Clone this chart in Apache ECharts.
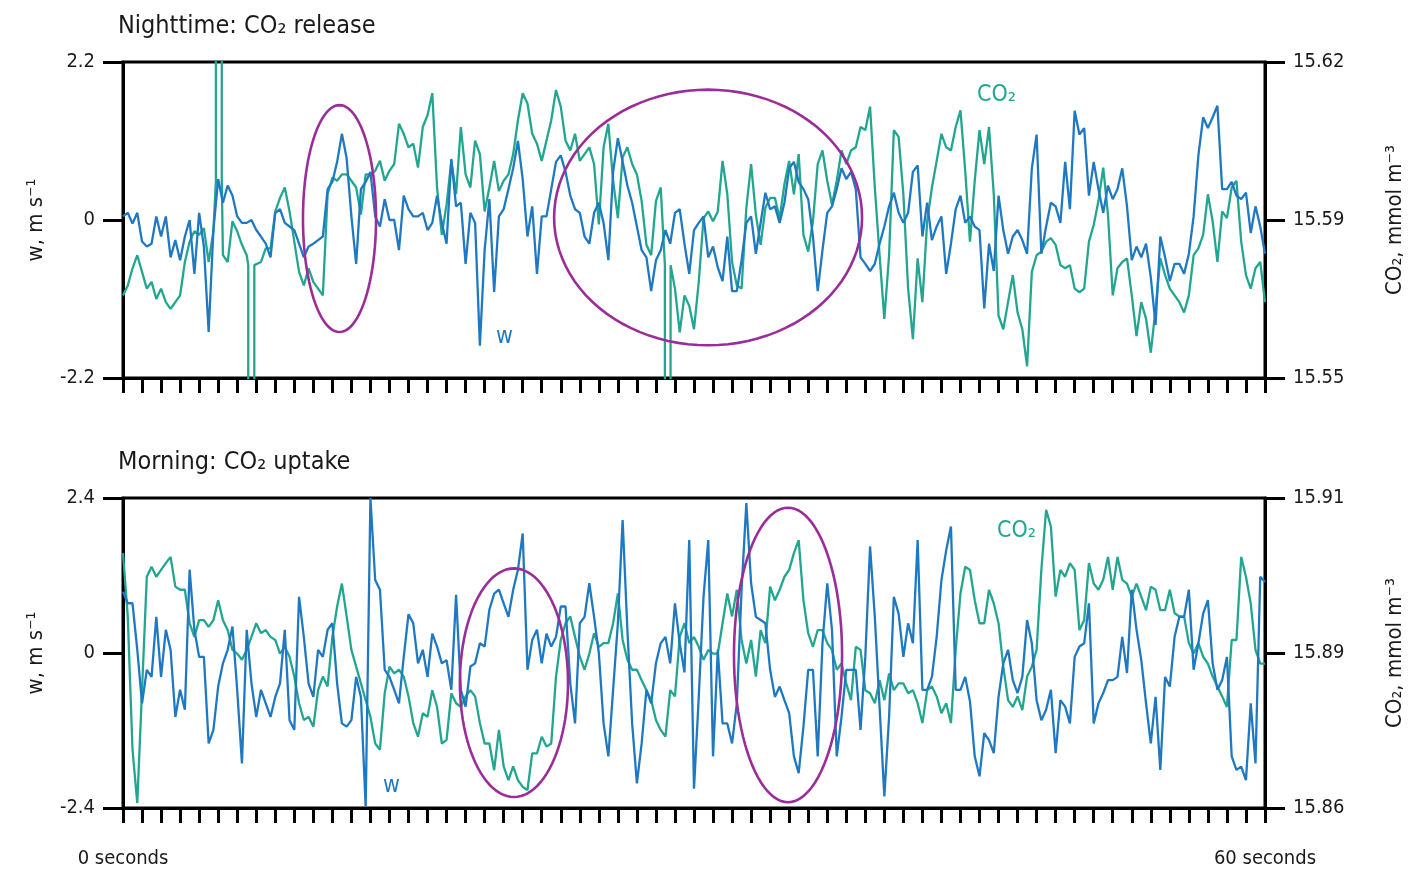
<!DOCTYPE html>
<html><head><meta charset="utf-8">
<script src="https://cdn.jsdelivr.net/npm/echarts@6/dist/echarts.min.js"></script>
<style>html,body{margin:0;padding:0;background:#fff}#c{width:1412px;height:872px}</style>
</head><body><div id="c"></div>
<script>
// sampling step of the traces, seconds
const STEP = 0.25;
const xLabels = {0: '0 seconds', 60: '60 seconds'};
const nightWTicks = [-2.2, 0, 2.2];
const nightCO2Ticks = [15.55, 15.585, 15.62];
const dayWTicks = [-2.4, 0, 2.4];
const dayCO2Ticks = [15.86, 15.885, 15.91];

// Nighttime: vertical wind speed w (m/s)
const nightW = [
0.05,0.1,-0.05,0.1,-0.3,-0.37,-0.33,0.05,-0.23,0.05,
-0.52,-0.28,-0.56,-0.23,0.0,-0.75,0.1,-0.37,-1.56,-0.14,
0.57,0.24,0.48,0.34,0.05,-0.04,-0.04,0.0,-0.14,-0.23,
-0.33,-0.52,0.1,0.15,-0.04,-0.09,-0.14,-0.33,-0.52,-0.37,
-0.33,-0.28,-0.23,0.43,0.53,0.81,1.2,0.86,0.05,-0.61,
0.43,0.53,0.67,0.05,-0.09,0.29,0.0,0.0,-0.42,0.34,
0.15,0.05,0.05,0.1,-0.14,-0.04,0.34,-0.04,-0.33,0.85,
0.19,0.24,-0.61,0.1,-0.04,-1.75,-0.42,0.29,-1.0,0.05,
0.15,0.43,0.72,1.1,0.57,-0.23,0.19,-0.75,0.05,0.05,
0.43,0.81,0.9,0.67,0.34,0.15,0.1,-0.23,-0.33,0.1,
0.24,-0.04,-0.56,0.67,1.14,0.81,0.48,0.24,-0.09,-0.42,
-0.52,-0.99,-0.56,-0.42,-0.14,-0.33,0.1,0.15,-0.33,-0.75,
-0.14,-0.04,0.05,-0.52,-0.37,-0.66,-0.85,-0.23,-0.99,-0.99,
-0.56,-0.04,0.05,-0.47,-0.04,0.38,0.15,0.19,-0.04,0.24,
0.72,0.81,0.53,0.43,0.29,-0.23,-0.99,-0.42,0.1,0.19,
0.43,0.72,0.57,0.67,0.43,-0.52,-0.61,-0.71,-0.61,-0.33,
-0.09,0.19,0.38,0.1,-0.04,0.1,0.67,0.76,-0.23,0.24,
-0.28,-0.09,0.05,-0.75,-0.33,0.15,0.34,-0.04,0.05,-0.09,
-0.14,-1.23,-0.33,-0.71,0.34,-0.14,-0.47,-0.23,-0.14,-0.28,
-0.47,0.72,1.19,-0.47,-0.09,0.24,0.19,-0.04,0.81,0.15,
1.52,1.19,1.28,0.34,0.81,0.43,0.1,0.48,0.29,0.43,
0.72,0.19,-0.56,-0.37,-0.52,-0.33,-0.8,-1.46,-0.23,-0.52,
-0.85,-0.61,-0.61,-0.75,-0.47,0.05,0.9,1.43,1.28,1.43,
1.59,0.43,0.43,0.53,0.34,0.29,0.38,-0.18,0.19,-0.09,-0.47
];
// Nighttime: CO2 concentration (mmol m-3)
const nightCO2 = [
15.5683,15.5705,15.5743,15.5772,15.5735,15.5698,15.5713,15.5675,15.5698,15.5668,
15.5653,15.5668,15.5683,15.5757,15.5802,15.5825,15.5817,15.5832,15.5757,15.5825,
15.5862,15.5772,15.5757,15.5847,15.5825,15.5795,15.5772,15.5698,15.5750,15.5757,
15.5787,15.5787,15.5869,15.5899,15.5922,15.5869,15.5802,15.5735,15.5705,15.5743,
15.5713,15.5698,15.5683,15.5907,15.5944,15.5937,15.5951,15.5951,15.5937,15.5922,
15.5862,15.5951,15.5951,15.5959,15.5981,15.5937,15.5959,15.5974,15.6063,15.6041,
15.6011,15.6019,15.5966,15.6056,15.6082,15.6131,15.5922,15.5817,15.5884,15.5981,
15.5907,15.6056,15.5951,15.5922,15.6026,15.5996,15.5869,15.5922,15.5981,15.5914,
15.5937,15.5951,15.5996,15.6071,15.6131,15.6108,15.6041,15.6019,15.5981,15.6026,
15.6071,15.6138,15.6101,15.6026,15.6004,15.6041,15.5981,15.5996,15.6011,15.5974,
15.5840,15.6011,15.6063,15.5937,15.5854,15.5989,15.6011,15.5974,15.5951,15.5892,
15.5795,15.5772,15.5892,15.5922,15.5772,15.5735,15.5698,15.5601,15.5683,15.5660,
15.5608,15.5713,15.5854,15.5869,15.5847,15.5869,15.5981,15.5907,15.5757,15.5705,
15.5698,15.5877,15.5974,15.5862,15.5795,15.5877,15.5899,15.5899,15.5854,15.5929,
15.5981,15.5907,15.5996,15.5817,15.5780,15.5847,15.5974,15.6004,15.5937,15.5884,
15.5937,15.6004,15.5974,15.6004,15.6011,15.6056,15.6049,15.6101,15.5922,15.5772,
15.5631,15.5772,15.6049,15.6034,15.5907,15.5698,15.5586,15.5765,15.5668,15.5847,
15.5922,15.5981,15.6041,15.6011,15.6004,15.6056,15.6093,15.5959,15.5802,15.5937,
15.6049,15.5974,15.6056,15.5907,15.5638,15.5608,15.5668,15.5728,15.5645,15.5608,
15.5526,15.5735,15.5772,15.5780,15.5802,15.5810,15.5795,15.5750,15.5743,15.5750,
15.5698,15.5690,15.5698,15.5802,15.5839,15.5892,15.5966,15.5862,15.5683,15.5743,
15.5757,15.5765,15.5683,15.5593,15.5668,15.5631,15.5556,15.5653,15.5765,15.5728,
15.5698,15.5683,15.5668,15.5645,15.5683,15.5772,15.5787,15.5817,15.5907,15.5847,
15.5757,15.5869,15.5854,15.5922,15.5937,15.5802,15.5728,15.5698,15.5743,15.5757,15.5668
];
// Nighttime CO2 sensor spikes: [seconds, mmol m-3]
const nightCO2Spikes = [
  [[4.88,15.5937],[4.90,16.5],[5.17,16.5],[5.19,15.5937]],
  [[6.58,15.5750],[6.60,15.2],[6.88,15.2],[6.90,15.5750]],
  [[28.47,15.5750],[28.49,15.2],[28.75,15.2],[28.77,15.5750]]
];
// Morning: vertical wind speed w (m/s)
const dayW = [
0.95,0.77,0.77,0.05,-0.78,-0.26,-0.37,0.56,-0.37,0.36,
0.05,-0.99,-0.57,-0.88,1.29,0.36,-0.06,-0.06,-1.4,-1.19,
-0.52,-0.16,0.05,0.41,-0.57,-1.71,0.36,-0.47,-0.99,-0.57,
-0.78,-0.99,-0.68,-0.47,0.36,-1.04,-1.19,0.87,0.25,-0.47,
-0.68,0.05,-0.06,0.36,0.46,-0.47,-1.09,-1.14,-1.04,-0.37,
-0.68,-2.38,2.4,1.13,0.98,-0.26,-0.37,-0.57,-0.78,-0.06,
0.6,0.46,-0.16,0.05,-0.37,0.3,0.1,-0.16,-0.11,-0.57,
0.9,-0.57,-0.83,-0.21,-0.16,0.15,0.1,0.67,0.92,0.98,
0.77,0.56,0.98,1.29,1.85,-0.26,0.2,0.36,-0.16,0.3,
0.1,0.25,0.72,0.72,-0.47,-1.09,0.46,0.56,1.08,0.56,
0.0,-1.09,-1.6,-0.57,0.46,2.06,0.36,-1.09,-2.02,-1.4,
-0.57,-0.78,-0.16,0.15,0.25,-0.16,0.77,0.15,-0.3,1.75,
-2.1,-0.68,0.87,1.75,-1.6,0.05,-1.09,-1.09,-1.4,-0.78,
0.98,2.32,1.08,0.56,0.51,0.46,-0.26,-0.68,-0.52,-0.73,
-0.93,-1.6,-1.86,-1.14,-0.26,-0.26,-1.6,0.15,1.08,0.36,
-1.6,-0.99,-0.26,-0.26,-0.26,-1.19,-0.06,1.65,0.56,-0.83,
-2.22,-0.99,0.87,0.61,-0.06,0.46,0.15,1.75,-0.57,-0.57,
-0.37,0.25,1.13,1.59,1.96,-0.57,-0.57,-0.37,-0.75,-1.6,
-1.91,-1.24,-1.35,-1.55,-0.68,-0.16,0.05,-0.42,-0.62,-0.37,
0.51,0.15,-0.73,-1.04,-0.88,-0.57,-1.55,-0.73,-0.83,-1.09,
-0.06,0.1,0.15,0.77,-1.09,-0.78,-0.62,-0.42,-0.42,-0.37,
0.25,-0.31,0.98,0.36,-0.11,-0.78,-1.4,-0.68,-1.81,-0.37,
-0.52,0.25,0.56,0.56,0.98,-0.26,0.15,0.61,0.82,-0.16,
-0.57,-0.42,-0.06,-1.6,-1.81,-1.76,-1.97,-0.78,-1.71,1.18,1.1
];
// Morning: CO2 concentration (mmol m-3)
const dayCO2 = [
15.9011,15.8909,15.8694,15.8608,15.8790,15.8973,15.8989,15.8973,15.8984,15.8995,
15.9005,15.8957,15.8952,15.8952,15.8898,15.8876,15.8903,15.8903,15.8892,15.8903,
15.8935,15.8903,15.8887,15.8855,15.8849,15.8839,15.8855,15.8876,15.8898,15.8882,
15.8887,15.8876,15.8871,15.8849,15.8860,15.8844,15.8812,15.8769,15.8742,15.8747,
15.8731,15.8790,15.8812,15.8796,15.8876,15.8925,15.8962,15.8909,15.8855,15.8828,
15.8801,15.8774,15.8747,15.8704,15.8694,15.8785,15.8828,15.8817,15.8823,15.8812,
15.8780,15.8737,15.8715,15.8753,15.8747,15.8790,15.8763,15.8704,15.8710,15.8785,
15.8769,15.8763,15.8780,15.8790,15.8780,15.8737,15.8704,15.8704,15.8661,15.8726,
15.8667,15.8645,15.8667,15.8645,15.8634,15.8629,15.8688,15.8688,15.8715,15.8699,
15.8704,15.8812,15.8871,15.8898,15.8909,15.8876,15.8844,15.8823,15.8849,15.8882,
15.8860,15.8866,15.8866,15.8898,15.8946,15.8871,15.8839,15.8823,15.8823,15.8806,
15.8790,15.8774,15.8742,15.8726,15.8715,15.8790,15.8780,15.8876,15.8898,15.8866,
15.8876,15.8860,15.8839,15.8855,15.8849,15.8849,15.8898,15.8946,15.8909,15.8952,
15.8871,15.8833,15.8871,15.8812,15.8887,15.8866,15.8957,15.8935,15.8952,15.8973,
15.8984,15.9011,15.9032,15.8935,15.8882,15.8860,15.8887,15.8887,15.8866,15.8855,
15.8823,15.8833,15.8801,15.8774,15.8860,15.8855,15.8790,15.8785,15.8769,15.8806,
15.8774,15.8817,15.8790,15.8801,15.8801,15.8785,15.8790,15.8769,15.8737,15.8790,
15.8796,15.8780,15.8753,15.8769,15.8737,15.8855,15.8946,15.8989,15.8984,15.8935,
15.8898,15.8898,15.8952,15.8930,15.8898,15.8828,15.8774,15.8763,15.8780,15.8758,
15.8812,15.8828,15.8855,15.8984,15.9081,15.9054,15.8941,15.8984,15.8973,15.8995,
15.8984,15.8887,15.8903,15.8995,15.8962,15.8952,15.8968,15.9005,15.8952,15.9005,
15.8968,15.8962,15.8941,15.8962,15.8941,15.8919,15.8957,15.8952,15.8919,15.8919,
15.8952,15.8914,15.8909,15.8909,15.8866,15.8849,15.8866,15.8844,15.8833,15.8812,
15.8796,15.8780,15.8763,15.8871,15.8871,15.9005,15.8973,15.8930,15.8855,15.8833,15.8833
];
// annotation ellipses: [centre s, centre w, half-width s, half-height w]
const nightEllipses = [[11.375,0.02,1.92,1.58],[30.74,0.035,8.09,1.78]];
const dayEllipses = [[20.54,-0.46,2.84,1.77],[34.94,-0.03,2.84,2.28]];

const FONT = "'Liberation Sans Narrow','DejaVu Sans Condensed','Roboto Condensed','Liberation Sans',sans-serif";
const BLUE = '#1f79c2', TEAL = '#22a690', PURPLE = '#9b2d98';

function toPairs(values, spikes) {
  let pts = values.map((v, i) => [i * STEP, v]);
  (spikes || []).forEach(sp => {
    const t0 = sp[0][0], t1 = sp[sp.length - 1][0];
    pts = pts.filter(p => p[0] < t0 || p[0] > t1).concat(sp);
  });
  pts.sort((a, b) => a[0] - b[0]);
  return pts;
}

const chart = echarts.init(document.getElementById('c'), null, {renderer: 'canvas'});
const axisLineStyle = {color: '#000', width: 3};
const labelStyle = {fontFamily: FONT, fontSize: 20, color: '#1a1a1a'};

function xAxis(i) {
  return {
    type: 'value', gridIndex: i, min: 0, max: 60, interval: 1,
    axisLine: {show: true, onZero: false, lineStyle: axisLineStyle},
    axisTick: {show: true, length: 15, lineStyle: {color: '#000', width: 3}},
    splitLine: {show: false},
    axisLabel: i === 0 ? {show: false} : Object.assign({
      formatter: v => xLabels[v] || '', margin: 41, showMinLabel: true, showMaxLabel: true
    }, labelStyle)
  };
}
function wAxis(i, ticks, name) {
  return {
    type: 'value', gridIndex: i, position: 'left', min: ticks[0], max: ticks[2], interval: ticks[2],
    axisLine: {show: true, onZero: false, lineStyle: axisLineStyle},
    axisTick: {show: true, length: 20, lineStyle: {color: '#000', width: 3}},
    splitLine: {show: false},
    axisLabel: Object.assign({margin: 28, formatter: v => String(v)}, labelStyle),
    name: name, nameLocation: 'middle', nameRotate: 90, nameGap: 76,
    nameTextStyle: {fontFamily: FONT, fontSize: 22, color: '#1a1a1a'}
  };
}
function co2Axis(i, ticks, name) {
  return {
    type: 'value', gridIndex: i, position: 'right', min: ticks[0], max: ticks[2],
    axisLine: {show: true, onZero: false, lineStyle: axisLineStyle},
    axisTick: {show: true, length: 20, customValues: ticks, lineStyle: {color: '#000', width: 3}},
    splitLine: {show: false},
    axisLabel: Object.assign({margin: 28, customValues: ticks, formatter: v => (v + 1e-9).toFixed(2)}, labelStyle),
    name: name, nameLocation: 'middle', nameRotate: 90, nameGap: 119,
    nameTextStyle: {fontFamily: FONT, fontSize: 22, color: '#1a1a1a'}
  };
}
function line(data, color, xi, yi, z) {
  return {
    type: 'line', xAxisIndex: xi, yAxisIndex: yi, data: data, showSymbol: false, symbol: 'none',
    lineStyle: {color: color, width: 2.3}, itemStyle: {color: color}, z: z, clip: true, silent: true
  };
}
const gridBase = {left: 123, right: 147, show: true, borderColor: '#000', borderWidth: 3,
  backgroundColor: 'transparent', containLabel: false, outerBoundsMode: 'none'};

chart.setOption({
  animation: false,
  backgroundColor: '#fff',
  title: [
    {text: 'Nighttime: CO₂ release', left: 113, top: 9, textStyle: {fontFamily: FONT, fontSize: 25, fontWeight: 'normal', color: '#1a1a1a'}},
    {text: 'Morning: CO₂ uptake', left: 113, top: 445, textStyle: {fontFamily: FONT, fontSize: 25, fontWeight: 'normal', color: '#1a1a1a'}}
  ],
  grid: [
    Object.assign({top: 62, height: 316}, gridBase),
    Object.assign({top: 498, height: 310}, gridBase)
  ],
  xAxis: [xAxis(0), xAxis(1)],
  yAxis: [
    wAxis(0, nightWTicks, 'w, m s⁻¹'),
    co2Axis(0, nightCO2Ticks, 'CO₂, mmol m⁻³'),
    wAxis(1, dayWTicks, 'w, m s⁻¹'),
    co2Axis(1, dayCO2Ticks, 'CO₂, mmol m⁻³')
  ],
  series: [
    line(toPairs(nightCO2, nightCO2Spikes), TEAL, 0, 1, 2),
    line(toPairs(nightW), BLUE, 0, 0, 3),
    line(toPairs(dayCO2), TEAL, 1, 3, 2),
    line(toPairs(dayW), BLUE, 1, 2, 3)
  ]
});

function ellipse(xi, yi, e) {
  const c = chart.convertToPixel({xAxisIndex: xi, yAxisIndex: yi}, [e[0], e[1]]);
  const p = chart.convertToPixel({xAxisIndex: xi, yAxisIndex: yi}, [e[0] + e[2], e[1] + e[3]]);
  const rx = Math.abs(p[0] - c[0]), ry = Math.abs(c[1] - p[1]);
  const pts = [];
  for (let k = 0; k < 96; k++) {
    const a = k / 96 * Math.PI * 2;
    pts.push([c[0] + rx * Math.cos(a), c[1] + ry * Math.sin(a)]);
  }
  return {type: 'polygon', shape: {points: pts}, style: {fill: 'none', stroke: PURPLE, lineWidth: 2.6}, z: 100, silent: true};
}
function note(text, x, y, color) {
  return {type: 'text', x: x, y: y, z: 101, silent: true,
    style: {text: text, fill: color, font: '23px ' + FONT, textVerticalAlign: 'middle'}};
}
const graphics = []
  .concat(nightEllipses.map(e => ellipse(0, 0, e)))
  .concat(dayEllipses.map(e => ellipse(1, 2, e)))
  .concat([
    note('CO₂', 977, 95, TEAL),
    note('w', 496, 337, BLUE),
    note('CO₂', 997, 531, TEAL),
    note('w', 383, 786, BLUE)
  ]);
const bad = [nightW, nightCO2, dayW, dayCO2].map(a => a.length).filter(n => n !== 241);
if (bad.length) graphics.push({type: 'text', x: 5, y: 860, style: {text: 'LEN ' + bad.join(','), fill: 'red'}});
chart.setOption({graphic: graphics});
</script>
</body></html>
